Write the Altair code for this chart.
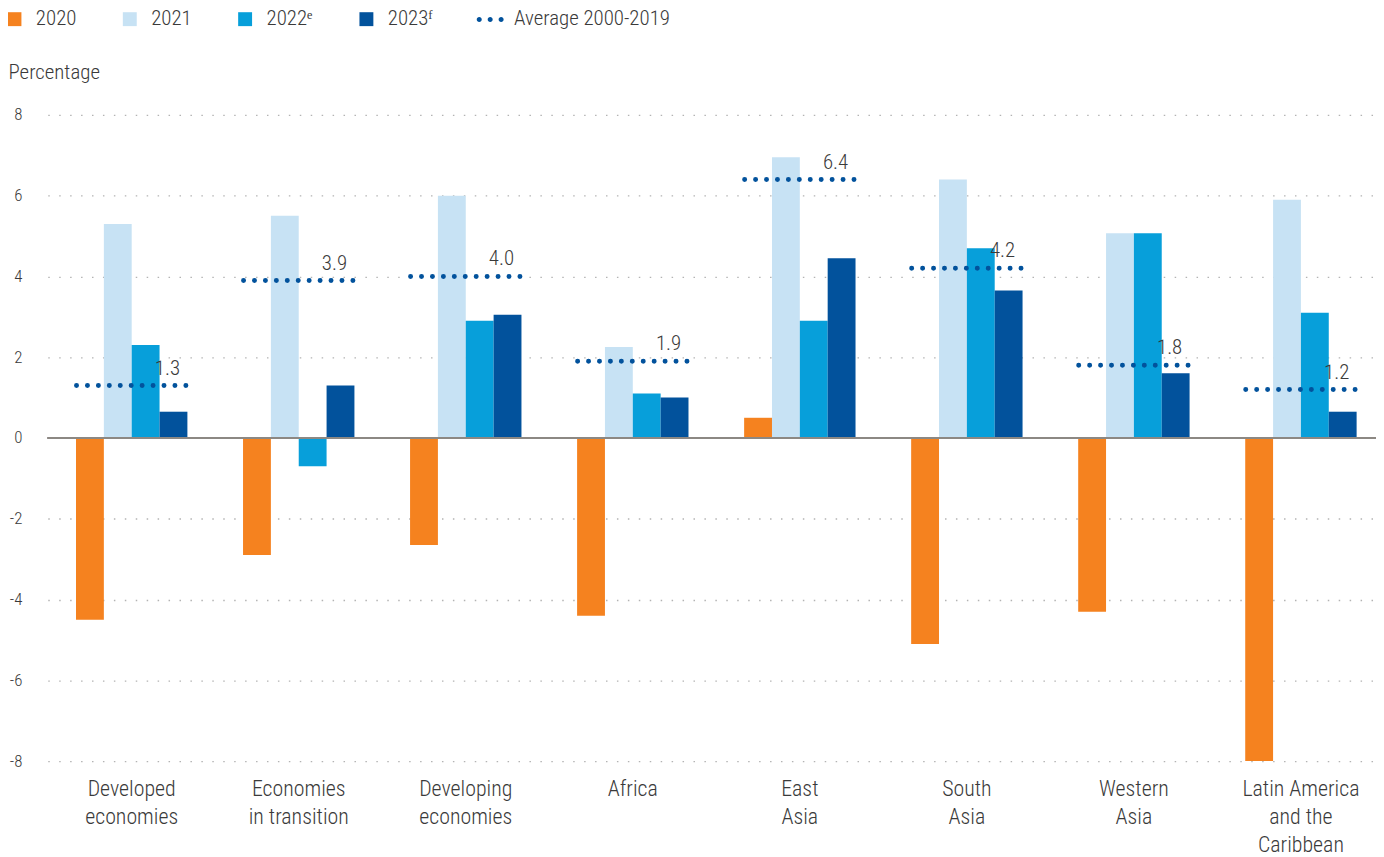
import altair as alt
import pandas as pd

categories = [
    "Developed\neconomies",
    "Economies\nin transition",
    "Developing\neconomies",
    "Africa",
    "East\nAsia",
    "South\nAsia",
    "Western\nAsia",
    "Latin America\nand the\nCaribbean",
]
series = ["2020", "2021", "2022ᵉ", "2023ᶠ"]
v2020 = [-4.5, -2.9, -2.65, -4.4, 0.5, -5.1, -4.3, -8.0]
v2021 = [5.3, 5.5, 6.0, 2.25, 6.95, 6.4, 5.07, 5.9]
v2022 = [2.3, -0.7, 2.9, 1.1, 2.9, 4.7, 5.07, 3.1]
v2023 = [0.65, 1.3, 3.05, 1.0, 4.45, 3.65, 1.6, 0.65]
avg = [1.3, 3.9, 4.0, 1.9, 6.4, 4.2, 1.8, 1.2]
avg_label = "Average 2000-2019"
y_ticks = [-8, -6, -4, -2, 0, 2, 4, 6, 8]

colors = ["#f5821f", "#c7e2f4", "#079fda", "#02529c"]
AVG_COLOR = "#02529c"
TEXT = "#3a3a3a"
FONT = "Roboto Condensed"

rows = []
for i, c in enumerate(categories):
    for s, vals in zip(series, [v2020, v2021, v2022, v2023]):
        rows.append({"cat": c, "series": s, "value": vals[i]})
bars_df = pd.DataFrame(rows)
avg_df = pd.DataFrame({"cat": categories, "avg": avg, "legend": [avg_label] * len(categories)})

x_scale = alt.Scale(domain=categories, paddingInner=0.101, paddingOuter=0.0265, align=1)
y_scale = alt.Scale(domain=[-8, 8], nice=False)

DOTS = ("M-1.23,0a0.23,0.23 0 1,0 0.46,0a0.23,0.23 0 1,0 -0.46,0"
        "M-0.23,0a0.23,0.23 0 1,0 0.46,0a0.23,0.23 0 1,0 -0.46,0"
        "M0.77,0a0.23,0.23 0 1,0 0.46,0a0.23,0.23 0 1,0 -0.46,0")

x_axis = alt.Axis(
    title=None, domain=False, ticks=False, grid=False,
    labelExpr="split(datum.label, '\\n')", labelAngle=0,
    labelFont=FONT, labelFontSize=22, labelFontWeight=300, labelColor=TEXT,
    labelLineHeight=28, labelPadding=18, labelBaseline="top",
)
y_axis = alt.Axis(
    values=y_ticks, domain=False, ticks=False, tickSize=0,
    labelExpr="'' + datum.value",
    labelFont=FONT, labelFontSize=17, labelFontWeight=300, labelColor=TEXT,
    labelPadding=26,
    grid=True, gridDash=[1.5, 9.5], gridColor="#b3b3b3", gridWidth=1.3,
    title="Percentage", titleAngle=0, titleX=-40, titleY=-37,
    titleAlign="left", titleBaseline="alphabetic",
    titleFont=FONT, titleFontSize=21, titleFontWeight=300, titleColor=TEXT,
)

bars = alt.Chart(bars_df).mark_bar().encode(
    x=alt.X("cat:N", scale=x_scale, axis=x_axis),
    xOffset=alt.XOffset("series:N", scale=alt.Scale(domain=series, paddingInner=0, paddingOuter=0.696)),
    y=alt.Y("value:Q", scale=y_scale, axis=y_axis),
    color=alt.Color(
        "series:N",
        scale=alt.Scale(domain=series, range=colors),
        legend=alt.Legend(
            title=None, orient="none", legendX=-44, legendY=-107,
            direction="horizontal", columns=4, columnPadding=43,
            symbolType="square", symbolSize=196, symbolStrokeWidth=0,
            labelOffset=11, labelFont=FONT, labelFontSize=21,
            labelFontWeight=300, labelColor=TEXT,
        ),
    ),
)

zero = alt.Chart(avg_df).mark_rule(color="#8c8883", strokeWidth=2).encode(
    y=alt.datum(0)
)

avg_rules = alt.Chart(avg_df).mark_rule(
    color=AVG_COLOR, strokeWidth=5, strokeCap="round"
).encode(
    x=alt.X("cat:N", bandPosition=0.1325, scale=x_scale, axis=x_axis),
    x2=alt.X2("cat", bandPosition=0.861),
    y=alt.Y("avg:Q", scale=y_scale, axis=y_axis),
    strokeDash=alt.StrokeDash(
        "legend:N",
        scale=alt.Scale(domain=[avg_label], range=[[0, 11]]),
        legend=alt.Legend(
            title=None, orient="none", legendX=434, legendY=-107,
            symbolType=DOTS, symbolSize=484, symbolFillColor=AVG_COLOR,
            symbolStrokeColor=AVG_COLOR, symbolStrokeWidth=0,
            labelOffset=13, labelLimit=400, labelFont=FONT, labelFontSize=21,
            labelFontWeight=300, labelColor=TEXT,
        ),
    ),
)

avg_text = alt.Chart(avg_df).mark_text(
    align="center", baseline="alphabetic", dy=-11,
    font=FONT, fontSize=21, fontWeight=300, color=TEXT,
).encode(
    x=alt.X("cat:N", bandPosition=0.738, scale=x_scale, axis=x_axis),
    y=alt.Y("avg:Q", scale=y_scale, axis=y_axis),
    text=alt.Text("avg:Q", format=".1f"),
)

chart = alt.layer(bars, zero, avg_rules, avg_text).properties(
    width=1336, height=650,
    autosize=alt.AutoSizeParams(type="none"),
    padding={"left": 40, "top": 105, "right": 0, "bottom": 94},
    background="white",
).configure_view(stroke=None)

chart.save("out.html", embed_options={"renderer": "svg", "actions": False})
